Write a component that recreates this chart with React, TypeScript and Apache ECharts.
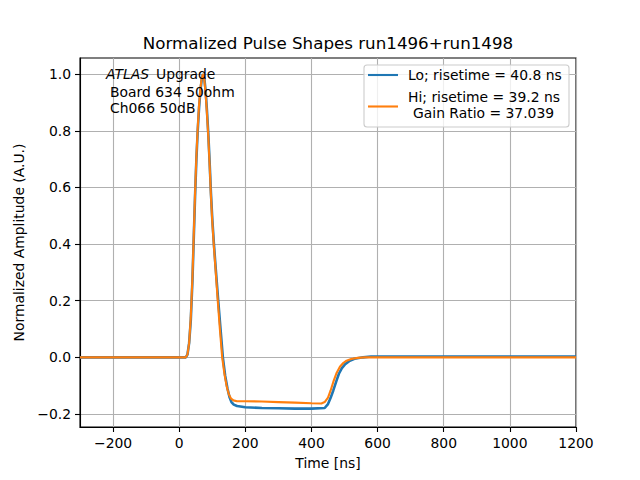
import React, { useEffect, useRef } from "react";
import * as echarts from "echarts";

// Lo gain channel (blue)
const loTime = [-300, -250, -200, -150, -100, -50, 0, 20, 25, 30, 35, 40, 44, 48, 52, 56, 60, 64, 68, 72, 76, 80, 84, 88, 92, 96, 100, 105, 110, 118, 125, 132, 139, 146, 152, 158, 165, 175, 200, 250, 300, 350, 400, 440, 450, 458, 466, 475, 483, 492, 502, 516, 530, 556, 580, 700, 800, 900, 1000, 1100, 1200];
const loValues = [0, 0, 0, 0, 0, 0, 0, 0, 0.01, 0.05, 0.13, 0.27, 0.42, 0.57, 0.7, 0.8, 0.88, 0.94, 0.98, 1.0, 0.985, 0.94, 0.87, 0.79, 0.69, 0.58, 0.49, 0.4, 0.32, 0.2, 0.1, 0.0, -0.065, -0.11, -0.14, -0.158, -0.167, -0.172, -0.176, -0.179, -0.18, -0.181, -0.181, -0.179, -0.165, -0.143, -0.117, -0.085, -0.058, -0.038, -0.024, -0.012, -0.005, 0.0, 0.003, 0.003, 0.003, 0.003, 0.003, 0.003, 0.003];

// Hi gain channel (orange)
const hiTime = [-300, -250, -200, -150, -100, -50, 0, 20, 25, 30, 35, 40, 44, 48, 52, 56, 60, 64, 68, 72, 76, 80, 84, 88, 92, 96, 100, 105, 110, 116, 123, 130, 137, 144, 150, 157, 164, 175, 200, 250, 300, 350, 400, 430, 440, 450, 458, 466, 476, 486, 496, 506, 520, 540, 560, 600, 700, 800, 900, 1000, 1100, 1200];
const hiValues = [0, 0, 0, 0, 0, 0, 0, 0, 0.01, 0.05, 0.14, 0.28, 0.43, 0.58, 0.71, 0.81, 0.89, 0.95, 0.985, 1.0, 0.98, 0.93, 0.86, 0.78, 0.68, 0.57, 0.48, 0.39, 0.31, 0.21, 0.1, 0.0, -0.06, -0.105, -0.13, -0.146, -0.152, -0.155, -0.155, -0.156, -0.158, -0.16, -0.162, -0.163, -0.158, -0.142, -0.117, -0.087, -0.055, -0.033, -0.02, -0.012, -0.006, -0.002, 0, 0, 0, 0, 0, 0, 0, 0];

const xTicks = [-200, 0, 200, 400, 600, 800, 1000, 1200];
const yTicks = [-0.2, 0.0, 0.2, 0.4, 0.6, 0.8, 1.0];

const titleText = "Normalized Pulse Shapes run1496+run1498";
const xName = "Time [ns]";
const yName = "Normalized Amplitude (A.U.)";
const loLabel = "Lo; risetime = 40.8 ns";
const hiLabel1 = "Hi; risetime = 39.2 ns";
const hiLabel2 = "Gain Ratio = 37.039";
const noteLines = ["Board 634 50ohm", "Ch066 50dB"];

const FONT = "DejaVu Sans";
const BLUE = "#1f77b4";
const ORANGE = "#ff7f0e";

const minus = (s: string) => s.replace("-", "\u2212");

export default function App() {
  const ref = useRef<HTMLDivElement>(null);
  useEffect(() => {
    if (!ref.current) return;
    const chart = echarts.init(ref.current, null, { renderer: "svg" });
    const loData = loTime.map((t, i) => [t, loValues[i]]);
    const hiData = hiTime.map((t, i) => [t, hiValues[i]]);
    const txt = { fontFamily: FONT, fontSize: 13.9, fill: "#000" };
    chart.setOption({
      animation: false,
      backgroundColor: "#fff",
      grid: {
        left: 80,
        right: 64,
        top: 58,
        bottom: 53,
        show: true,
        borderColor: "#000",
        borderWidth: 1.1,
        backgroundColor: "#fff",
      },
      xAxis: {
        type: "value",
        min: -300,
        max: 1200,
        name: xName,
        nameLocation: "middle",
        nameGap: 29,
        nameTextStyle: { fontFamily: FONT, fontSize: 13.9, color: "#000" },
        axisLine: { show: true, onZero: false, lineStyle: { color: "#000", width: 1.1 } },
        axisTick: { show: true, inside: false, length: 5, customValues: xTicks, lineStyle: { color: "#000", width: 1.1 } },
        axisLabel: {
          customValues: xTicks,
          margin: 9,
          fontFamily: FONT,
          fontSize: 13.9,
          color: "#000",
          formatter: (v: number) => minus(String(v)),
        },
        splitLine: { show: true, lineStyle: { color: "#b0b0b0", width: 1.1 } },
      },
      yAxis: {
        type: "value",
        min: -0.246,
        max: 1.057,
        name: yName,
        nameLocation: "middle",
        nameGap: 51,
        nameTextStyle: { fontFamily: FONT, fontSize: 13.9, color: "#000" },
        axisLine: { show: true, onZero: false, lineStyle: { color: "#000", width: 1.1 } },
        axisTick: { show: true, inside: false, length: 5, customValues: yTicks, lineStyle: { color: "#000", width: 1.1 } },
        axisLabel: {
          customValues: yTicks,
          margin: 9,
          fontFamily: FONT,
          fontSize: 13.9,
          color: "#000",
          formatter: (v: number) => minus(v.toFixed(1)),
        },
        splitLine: { show: true, lineStyle: { color: "#b0b0b0", width: 1.1 } },
      },
      series: [
        {
          name: loLabel,
          type: "line",
          data: loData,
          showSymbol: false,
          symbol: "none",
          lineStyle: { color: BLUE, width: 2.6 },
          itemStyle: { color: BLUE },
          z: 2,
        },
        {
          name: hiLabel1,
          type: "line",
          data: hiData,
          showSymbol: false,
          symbol: "none",
          lineStyle: { color: ORANGE, width: 2.1 },
          itemStyle: { color: ORANGE },
          z: 3,
        },
      ],
      graphic: [
        {
          type: "text",
          x: 328,
          y: 43,
          style: { text: titleText, fontFamily: FONT, fontSize: 16.7, fill: "#000", textAlign: "center", textVerticalAlign: "middle" },
          z: 10,
        },
        {
          type: "text",
          x: 106,
          y: 74,
          style: { ...txt, text: "ATLAS", fontStyle: "italic", textAlign: "left", textVerticalAlign: "middle" },
          z: 10,
        },
        {
          type: "text",
          x: 156,
          y: 74,
          style: { ...txt, text: "Upgrade", textAlign: "left", textVerticalAlign: "middle" },
          z: 10,
        },
        {
          type: "text",
          x: 110,
          y: 91.7,
          style: { ...txt, text: noteLines[0], textAlign: "left", textVerticalAlign: "middle" },
          z: 10,
        },
        {
          type: "text",
          x: 110,
          y: 108.3,
          style: { ...txt, text: noteLines[1], textAlign: "left", textVerticalAlign: "middle" },
          z: 10,
        },
        {
          type: "rect",
          shape: { x: 364, y: 65, width: 205, height: 62, r: 3 },
          style: { fill: "rgba(255,255,255,0.8)", stroke: "#cccccc", lineWidth: 1.1 },
          z: 10,
        },
        {
          type: "line",
          shape: { x1: 368, y1: 75, x2: 398, y2: 75 },
          style: { stroke: BLUE, lineWidth: 2.1 },
          z: 11,
        },
        {
          type: "line",
          shape: { x1: 368, y1: 106.5, x2: 398, y2: 106.5 },
          style: { stroke: ORANGE, lineWidth: 2.1 },
          z: 11,
        },
        {
          type: "text",
          x: 408,
          y: 75,
          style: { ...txt, text: loLabel, textAlign: "left", textVerticalAlign: "middle" },
          z: 11,
        },
        {
          type: "text",
          x: 408,
          y: 97,
          style: { ...txt, text: hiLabel1, textAlign: "left", textVerticalAlign: "middle" },
          z: 11,
        },
        {
          type: "text",
          x: 413,
          y: 113,
          style: { ...txt, text: hiLabel2, textAlign: "left", textVerticalAlign: "middle" },
          z: 11,
        },
      ],
    });
    return () => chart.dispose();
  }, []);
  return (
    <div
      ref={ref}
      style={{ position: "fixed", left: 0, top: 0, width: 640, height: 480, background: "#fff" }}
    />
  );
}
